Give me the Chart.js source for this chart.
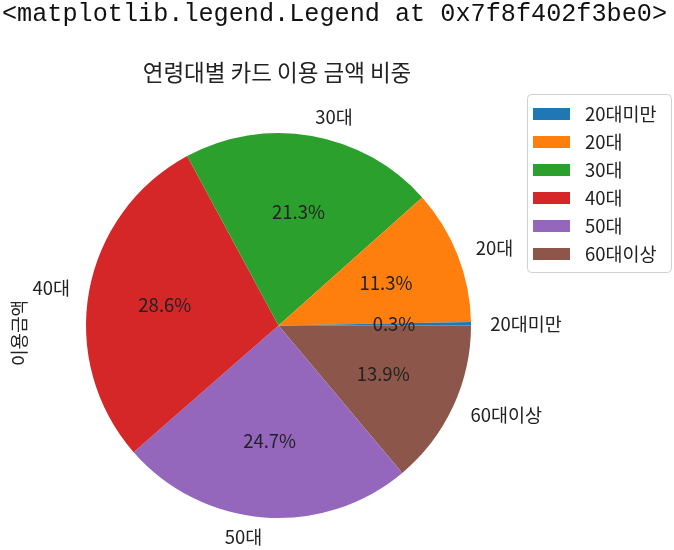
<!DOCTYPE html>
<html>
<head>
<meta charset="utf-8">
<script src="https://cdn.jsdelivr.net/npm/chart.js@4"></script>
<style>
  html, body { margin: 0; padding: 0; background: #fff; }
  #wrap { width: 674px; height: 550px; position: relative; }
</style>
</head>
<body>
<div id="wrap"><canvas id="chart"></canvas></div>
<script>
// 연령대별 카드 이용 금액 비중 (matplotlib pie, counterclockwise from 3 o'clock)
const ageGroups = ["20대미만", "20대", "30대", "40대", "50대", "60대이상"];
const shares = [0.3, 11.3, 21.3, 28.6, 24.7, 13.9];
const colors = ["#1f77b4", "#ff7f0e", "#2ca02c", "#d62728", "#9467bd", "#8c564b"];

const headerText = "<matplotlib.legend.Legend at 0x7f8f402f3be0>";
const titleText = "연령대별 카드 이용 금액 비중";
const yLabel = "이용금액";

const KR = "'Noto Sans CJK KR', 'Noto Sans', sans-serif";

// Chart.js draws clockwise, so reverse the order to get matplotlib's counterclockwise layout
const rev = a => a.slice().reverse();

const piePlugin = {
  id: "pieText",
  afterDraw(chart) {
    const ctx = chart.ctx;
    const meta = chart.getDatasetMeta(0);
    const labels = chart.data.labels;
    const values = chart.data.datasets[0].data;

    ctx.save();
    ctx.fillStyle = "#222";
    ctx.textBaseline = "middle";
    meta.data.forEach((arc, i) => {
      const mid = (arc.startAngle + arc.endAngle) / 2;
      const r = arc.outerRadius;
      // outer label at 1.1 r
      const lx = arc.x + Math.cos(mid) * r * 1.1;
      const ly = arc.y + Math.sin(mid) * r * 1.1;
      ctx.font = "18.5px " + KR;
      ctx.textAlign = Math.cos(mid) > 0 ? "left" : "right";
      ctx.fillText(labels[i], lx, ly);
      // percentage at 0.6 r
      const px = arc.x + Math.cos(mid) * r * 0.6;
      const py = arc.y + Math.sin(mid) * r * 0.6;
      ctx.textAlign = "center";
      ctx.fillText(values[i].toFixed(1) + "%", px, py);
    });

    // header line (notebook output)
    ctx.font = "25.2px 'Liberation Mono', 'DejaVu Sans Mono', monospace";
    ctx.textAlign = "left";
    ctx.fillStyle = "#111";
    ctx.fillText(headerText, 2, 14);

    // title
    ctx.font = "22.5px " + KR;
    ctx.textAlign = "center";
    ctx.fillStyle = "#222";
    ctx.fillText(titleText, 277, 72);

    // y label
    ctx.save();
    ctx.translate(19, 333);
    ctx.rotate(-Math.PI / 2);
    ctx.font = "18px " + KR;
    ctx.fillText(yLabel, 0, 0);
    ctx.restore();

    // legend (original order)
    const lx0 = 527, ly0 = 94, lw = 144, lh = 178;
    ctx.fillStyle = "#fff";
    ctx.strokeStyle = "#d0d0d0";
    ctx.lineWidth = 1;
    ctx.beginPath();
    ctx.roundRect(lx0 + 0.5, ly0 + 0.5, lw, lh, 4);
    ctx.fill();
    ctx.stroke();
    ctx.font = "18.5px " + KR;
    ctx.textAlign = "left";
    ageGroups.forEach((g, i) => {
      const cy = ly0 + 20 + i * 28;
      ctx.fillStyle = colors[i];
      ctx.fillRect(lx0 + 6, cy - 6, 37, 12);
      ctx.fillStyle = "#222";
      ctx.fillText(g, lx0 + 58, cy);
    });
    ctx.restore();
  }
};

new Chart(document.getElementById("chart"), {
  type: "pie",
  data: {
    labels: rev(ageGroups),
    datasets: [{
      data: rev(shares),
      backgroundColor: rev(colors),
      borderWidth: 0,
    }],
  },
  options: {
    responsive: true,
    maintainAspectRatio: false,
    animation: false,
    rotation: 90,
    layout: { padding: { left: 86, right: 203, top: 133, bottom: 32 } },
    plugins: {
      legend: { display: false },
      tooltip: { enabled: false },
    },
  },
  plugins: [piePlugin],
});
</script>
</body>
</html>
